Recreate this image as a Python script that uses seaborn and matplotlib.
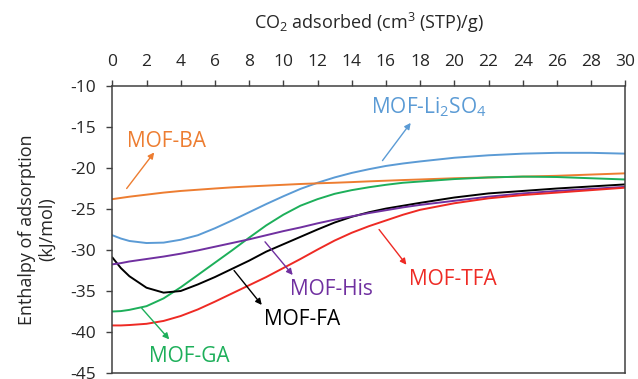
import numpy as np
import pandas as pd
import matplotlib
matplotlib.use("Agg")
import matplotlib.pyplot as plt
import seaborn as sns

# ---- data ----
x_vals = [0, 0.5, 1, 2, 3, 4, 5, 6, 7, 8, 9, 10, 11, 12, 13, 14, 15, 16, 17, 18, 20, 22, 24, 26, 28, 30]

mof_li2so4 = [-28.2, -28.6, -28.9, -29.15, -29.1, -28.75, -28.2, -27.35, -26.4, -25.4, -24.4, -23.45,
              -22.55, -21.8, -21.15, -20.6, -20.15, -19.75, -19.45, -19.2, -18.75, -18.45, -18.25,
              -18.15, -18.15, -18.25]
mof_ba = [-23.8, -23.65, -23.5, -23.25, -23.0, -22.8, -22.65, -22.5, -22.36, -22.25, -22.15, -22.05,
          -21.95, -21.87, -21.8, -21.72, -21.63, -21.55, -21.47, -21.4, -21.25, -21.15, -21.05,
          -20.95, -20.8, -20.65]
mof_ga = [-37.5, -37.45, -37.3, -36.85, -35.9, -34.55, -33.05, -31.55, -30.05, -28.5, -27.0, -25.7,
          -24.6, -23.8, -23.15, -22.7, -22.35, -22.05, -21.8, -21.65, -21.35, -21.15, -21.05,
          -21.1, -21.25, -21.4]
mof_fa = [-30.9, -32.2, -33.2, -34.6, -35.2, -35.0, -34.2, -33.3, -32.3, -31.3, -30.2, -29.3,
          -28.4, -27.5, -26.65, -25.95, -25.4, -24.95, -24.6, -24.25, -23.6, -23.1, -22.8,
          -22.5, -22.25, -22.0]
mof_his = [-31.75, -31.6, -31.4, -31.1, -30.8, -30.45, -30.05, -29.6, -29.15, -28.7, -28.2, -27.7,
           -27.25, -26.75, -26.3, -25.9, -25.5, -25.15, -24.8, -24.5, -24.0, -23.5, -23.1,
           -22.8, -22.55, -22.3]
mof_tfa = [-39.2, -39.2, -39.15, -39.0, -38.65, -38.05, -37.25, -36.3, -35.3, -34.3, -33.3, -32.2,
           -31.1, -29.95, -28.85, -27.9, -27.1, -26.4, -25.7, -25.1, -24.3, -23.7, -23.3,
           -23.0, -22.7, -22.4]

series_names = ["MOF-Li2SO4", "MOF-BA", "MOF-GA", "MOF-FA", "MOF-His", "MOF-TFA"]
series_values = [mof_li2so4, mof_ba, mof_ga, mof_fa, mof_his, mof_tfa]

x_ticks = list(range(0, 31, 2))
y_ticks = list(range(-45, -9, 5))

# ---- styles ----
palette = {
    "MOF-Li2SO4": "#5B9BD5",
    "MOF-BA": "#ED7D31",
    "MOF-GA": "#1DAF5A",
    "MOF-FA": "#000000",
    "MOF-His": "#7030A0",
    "MOF-TFA": "#EE2A24",
}

# label text, text anchor (baseline center), arrow tail, arrow head
annotations = [
    ("MOF-BA", "MOF-BA", (3.16, -17.47), (0.84, -22.5), (2.45, -18.1)),
    ("MOF-Li2SO4", r"MOF-Li$_2$SO$_4$", (18.5, -13.4), (15.8, -19.1), (17.45, -14.5)),
    ("MOF-TFA", "MOF-TFA", (19.9, -34.27), (15.6, -27.5), (17.2, -31.8)),
    ("MOF-His", "MOF-His", (12.83, -35.5), (8.93, -29.0), (10.55, -33.05)),
    ("MOF-FA", "MOF-FA", (11.12, -39.15), (7.12, -32.5), (8.74, -36.7)),
    ("MOF-GA", "MOF-GA", (4.51, -43.7), (1.72, -37.1), (3.33, -40.9)),
]

rows = []
for name, vals in zip(series_names, series_values):
    for xv, yv in zip(x_vals, vals):
        rows.append({"x": xv, "y": yv, "series": name})
df = pd.DataFrame(rows)

sns.set_style("white")
plt.rcParams["font.family"] = ["Open Sans", "DejaVu Sans"]
plt.rcParams["mathtext.default"] = "regular"
plt.rcParams["axes.unicode_minus"] = False

fig = plt.figure(figsize=(6.38, 3.79), dpi=100)
ax = fig.add_axes([112.3 / 638, 6 / 379, (625.3 - 112.3) / 638, (373 - 86) / 379])

sns.lineplot(data=df, x="x", y="y", hue="series", palette=palette,
             hue_order=series_names, legend=False, ax=ax, linewidth=1.4)

ax.set_xlim(0, 30)
ax.set_ylim(-45, -10)
ax.set_xticks(x_ticks)
ax.set_yticks(y_ticks)

spine_color = "#404040"
for s in ax.spines.values():
    s.set_color(spine_color)
    s.set_linewidth(1.1)
    s.set_visible(True)

ax.xaxis.tick_top()
ax.xaxis.set_label_position("top")
ax.tick_params(axis="x", which="both", top=True, bottom=False, direction="out",
               length=4.5, width=1.0, color=spine_color, labelsize=12.5, pad=7)
ax.tick_params(axis="y", which="both", left=True, right=False, direction="out",
               length=4.5, width=1.0, color=spine_color, labelsize=12.5, pad=7)

ax.set_xlabel(r"CO$_2$ adsorbed (cm$^3$ (STP)/g)", fontsize=13, labelpad=18)
ax.set_ylabel("Enthalpy of adsorption\n(kJ/mol)", fontsize=13, linespacing=1.1)
ax.yaxis.set_label_coords(-0.11, 0.5)

for key, text, tpos, tail, head in annotations:
    col = palette[key]
    ax.text(tpos[0], tpos[1], text, color=col, fontsize=15, ha="center", va="baseline")
    ax.annotate("", xy=head, xytext=tail,
                arrowprops=dict(arrowstyle="-|>", color=col, lw=1.0,
                                mutation_scale=9, shrinkA=0, shrinkB=0))

fig.savefig("out.png", dpi=100)
